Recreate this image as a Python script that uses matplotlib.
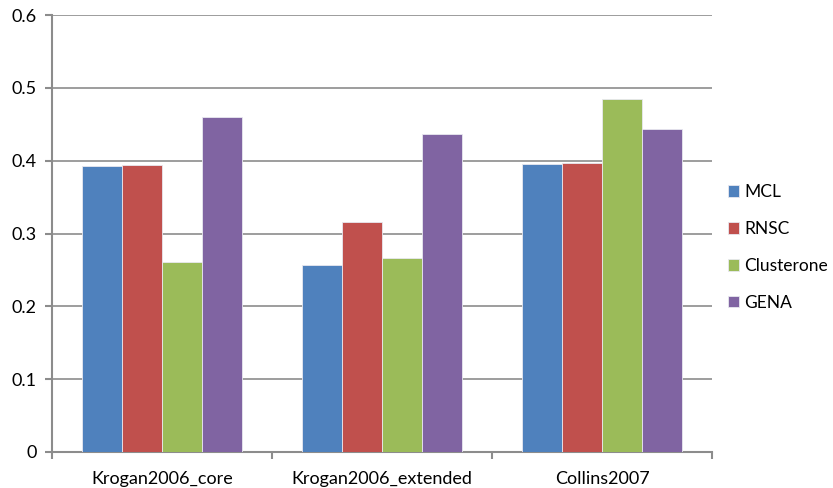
import numpy as np
import matplotlib.pyplot as plt

datasets = ['Krogan2006_core', 'Krogan2006_extended', 'Collins2007']
methods = ['MCL', 'RNSC', 'Clusterone', 'GENA']
mcl = [0.393, 0.257, 0.396]
rnsc = [0.394, 0.316, 0.397]
clusterone = [0.261, 0.266, 0.485]
gena = [0.460, 0.436, 0.444]
colors = ['#4f81bd', '#c0504d', '#9bbb59', '#8064a2']

plt.rcParams['font.family'] = ['Lato', 'DejaVu Sans']

fig = plt.figure(figsize=(8.33, 4.88), dpi=100)
ax = fig.add_axes([52 / 833, 36 / 488, 660 / 833, 437 / 488])

x = np.arange(len(datasets))
w = 40 / 220
for i, (vals, name) in enumerate(zip([mcl, rnsc, clusterone, gena], methods)):
    ax.bar(x + (i - 1.5) * w, vals, w, color=colors[i], label=name,
           edgecolor='#e8e8f0', linewidth=0.6, zorder=3)

ax.set_xlim(-0.5, 2.5)
ax.set_ylim(0, 0.6)
ax.set_yticks(np.arange(0, 0.61, 0.1))
ax.set_yticklabels(['0', '0.1', '0.2', '0.3', '0.4', '0.5', '0.6'])
ax.yaxis.grid(True, color='#8c8c8c', linewidth=1.2, zorder=0)

ax.set_xticks(x)
ax.set_xticklabels(datasets)
ax.set_xticks([-0.5, 0.5, 1.5, 2.5], minor=True)
ax.tick_params(axis='x', which='major', length=0, pad=14)
ax.tick_params(axis='x', which='minor', length=5, width=1.5, color='#8c8c8c')
ax.tick_params(axis='y', length=5, width=1.5, color='#8c8c8c', pad=6)
ax.tick_params(labelsize=13, labelcolor='black')

for s in ['top', 'right']:
    ax.spines[s].set_visible(False)
for s in ['left', 'bottom']:
    ax.spines[s].set_color('#8c8c8c')
    ax.spines[s].set_linewidth(1.5)

ax.legend(loc='center left', bbox_to_anchor=(1.0 + 9 / 660, 0.468), frameon=False,
          borderaxespad=0, fontsize=12.5, handlelength=0.65, handleheight=0.65,
          handletextpad=0.3, labelspacing=1.2)

fig.savefig('out.png', dpi=100)
